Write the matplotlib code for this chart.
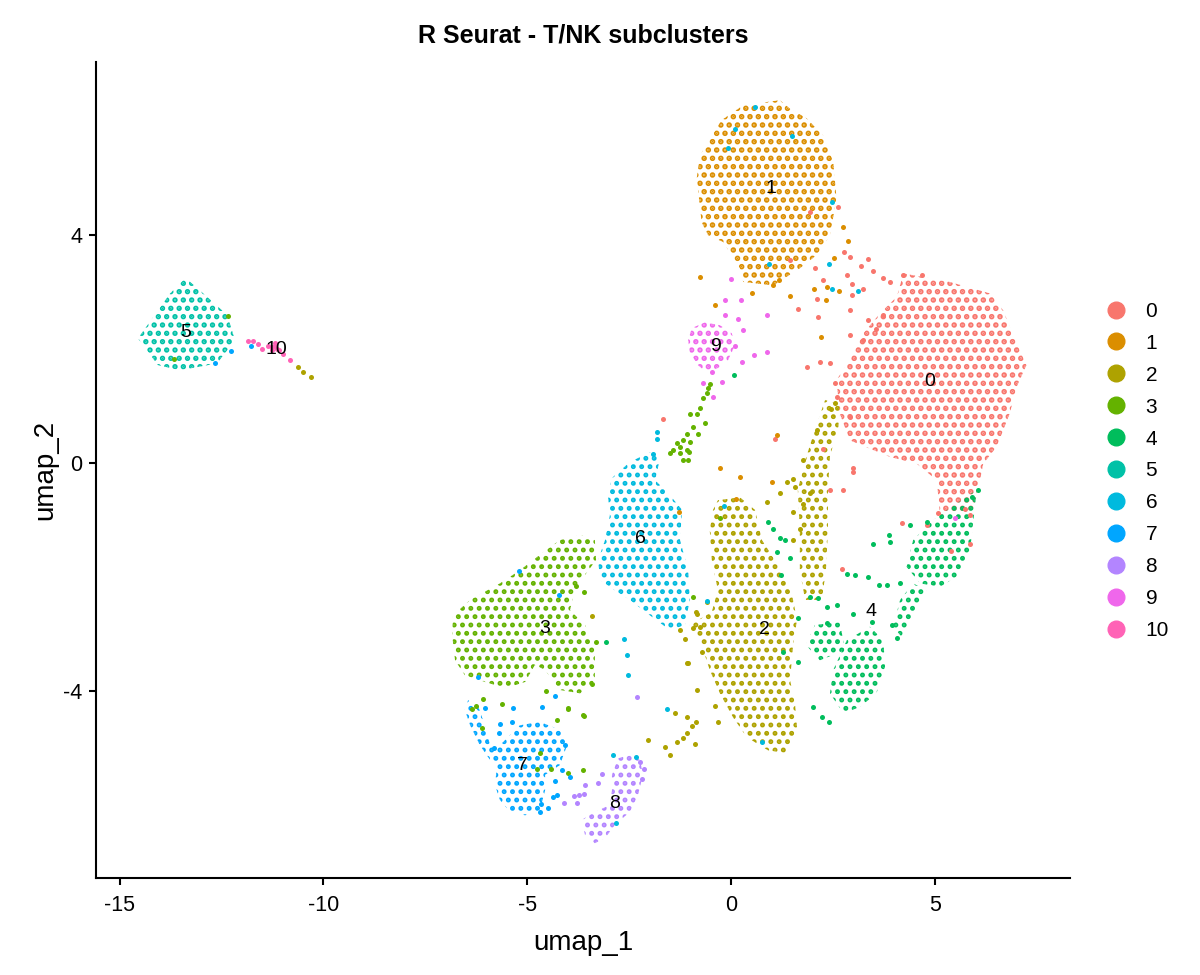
import matplotlib
matplotlib.use('Agg')
import matplotlib.pyplot as plt
from matplotlib.patches import Polygon
from matplotlib.lines import Line2D

plt.rcParams['font.family'] = ['Liberation Sans', 'DejaVu Sans']
plt.rcParams['axes.unicode_minus'] = False

clusters = ['0', '1', '2', '3', '4', '5', '6', '7', '8', '9', '10']
colors = ['#F8766D', '#DB8E00', '#AEA200', '#64B200', '#00BD5C', '#00C1A7',
          '#00BADE', '#00A6FF', '#B385FF', '#EF67EB', '#FF63B6']

# cluster outlines in umap coordinates
outline_0 = [[(4.07, 2.92), (4.23, 3.33), (5.37, 3.18), (6.35, 2.98), (6.68, 2.68), (7.01, 2.10),
              (7.25, 1.72), (7.01, 1.34), (6.84, 0.87), (6.52, 0.29), (6.19, -0.01), (6.11, -0.30),
              (5.94, -0.82), (5.13, -0.91), (5.05, -0.30), (4.56, -0.01), (3.90, 0.11), (2.92, 0.40),
              (2.67, 0.87), (2.59, 1.46), (2.92, 1.81), (3.25, 2.28), (3.66, 2.63)]]
outline_1 = [[(1.20, 6.37), (1.45, 6.22), (1.86, 6.05), (2.26, 5.75), (2.51, 5.29), (2.59, 4.64),
              (2.43, 4.00), (2.10, 3.65), (1.69, 3.42), (1.04, 3.12), (0.30, 3.18), (0.22, 3.42),
              (-0.19, 3.88), (-0.56, 4.00), (-0.72, 4.23), (-0.84, 5.00), (-0.76, 5.40), (-0.23, 6.02),
              (0.30, 6.28)]]
outline_2 = [[(-0.32, -0.65), (0.22, -0.60), (0.59, -0.82), (0.76, -1.35), (1.20, -1.84), (1.50, -2.32),
              (1.62, -2.75), (1.52, -3.23), (1.45, -3.81), (1.57, -4.21), (1.62, -4.63), (1.37, -5.09),
              (0.91, -5.04), (0.39, -4.81), (0.05, -4.46), (-0.27, -4.04), (-0.52, -3.63), (-0.76, -3.11),
              (-1.01, -2.84), (-0.47, -2.61), (-0.32, -2.23), (-0.47, -1.70), (-0.52, -1.18), (-0.44, -0.82)],
             [(2.31, 1.11), (2.67, 1.02), (2.63, 0.58), (2.43, 0.14), (2.38, -0.47), (2.38, -1.18),
              (2.33, -1.88), (2.23, -2.40), (1.82, -2.40), (1.69, -1.88), (1.69, -1.18), (1.64, -0.47),
              (1.82, 0.05), (2.06, 0.58)]]
outline_3 = [[(-6.82, -2.67), (-6.40, -2.40), (-5.67, -2.11), (-5.18, -1.88), (-4.69, -1.61), (-4.20, -1.35),
              (-3.70, -1.26), (-3.34, -1.35), (-3.31, -1.70), (-3.58, -1.96), (-3.83, -2.23), (-3.95, -2.58),
              (-3.58, -2.84), (-3.34, -3.28), (-3.34, -3.81), (-3.70, -4.04), (-4.20, -3.98), (-4.56, -3.63),
              (-4.81, -3.54), (-5.05, -3.84), (-5.54, -3.95), (-6.16, -3.81), (-6.53, -3.72), (-6.77, -3.46),
              (-6.84, -3.02)]]
outline_4 = [[(4.47, -1.35), (4.96, -1.00), (5.37, -0.79), (6.03, -0.47), (5.94, -1.06), (5.86, -1.58),
              (5.54, -1.99), (5.13, -2.17), (4.64, -2.11), (4.31, -1.82)],
             [(2.51, -3.63), (2.84, -3.11), (3.41, -2.87), (3.74, -3.11), (3.78, -3.57), (3.57, -4.04),
              (3.16, -4.28), (2.76, -4.39), (2.43, -4.04)],
             [(3.98, -2.87), (4.15, -2.40), (4.47, -2.11), (4.80, -2.23), (4.47, -2.64), (4.19, -3.05)],
             [(2.06, -2.84), (2.67, -2.79), (2.80, -3.28), (2.18, -3.46), (1.84, -3.19)]]
outline_5 = [[(-13.38, 3.25), (-12.95, 2.98), (-12.36, 2.60), (-12.17, 2.16), (-12.61, 1.75), (-13.52, 1.63),
              (-14.06, 1.72), (-14.55, 2.19), (-14.18, 2.56), (-13.76, 2.98)]]
outline_6 = [[(-2.92, -0.26), (-2.48, 0.02), (-1.99, 0.19), (-1.74, 0.09), (-1.86, -0.30), (-1.50, -0.56),
              (-1.20, -0.82), (-1.25, -1.35), (-1.05, -1.88), (-1.01, -2.40), (-1.13, -2.84), (-1.50, -2.93),
              (-1.99, -2.67), (-2.48, -2.40), (-2.85, -2.23), (-3.21, -2.05), (-3.26, -1.70), (-3.09, -1.35),
              (-2.97, -0.91), (-3.02, -0.56)]]
outline_7 = [[(-6.45, -4.16), (-6.21, -4.25), (-6.04, -4.60), (-5.91, -4.95), (-5.67, -4.95), (-5.18, -4.60),
              (-4.69, -4.54), (-4.20, -4.68), (-4.02, -4.95), (-4.20, -5.30), (-4.56, -5.47), (-4.56, -5.74),
              (-4.69, -6.09), (-5.05, -6.18), (-5.42, -6.12), (-5.67, -5.91), (-5.79, -5.65), (-5.74, -5.30),
              (-5.91, -5.21), (-6.16, -4.95), (-6.40, -4.60), (-6.53, -4.33)]]
outline_8 = [[(-2.77, -5.18), (-2.48, -5.12), (-2.23, -5.21), (-2.16, -5.47), (-2.28, -5.82), (-2.48, -6.12),
              (-2.85, -6.35), (-3.09, -6.58), (-3.34, -6.67), (-3.58, -6.53), (-3.66, -6.26), (-3.34, -6.12),
              (-2.97, -6.00), (-2.92, -5.74), (-2.92, -5.47)]]
outline_9 = [[(-0.96, 2.37), (-0.64, 2.47), (-0.27, 2.42), (0.02, 2.28), (0.10, 2.07), (-0.07, 1.81),
              (-0.32, 1.67), (-0.61, 1.60), (-0.81, 1.72), (-1.01, 1.95), (-1.05, 2.16)]]
outline_10 = []

# single cells lying outside the outlines
cells_0 = [(2.63, 4.50), (2.77, 3.71), (2.92, 3.61), (3.37, 3.58), (3.18, 3.46), (2.84, 3.31), (3.48, 3.37),
           (3.74, 3.25), (3.90, 3.18), (2.96, 3.15), (2.96, 2.95), (3.25, 3.06), (2.26, 3.21), (2.06, 3.42),
           (1.45, 3.57), (1.94, 4.40), (2.10, 2.88), (1.64, 2.70), (2.13, 2.57), (2.92, 2.68), (2.92, 2.25),
           (3.25, 2.16), (3.57, 2.36), (3.74, 2.60), (4.23, 3.30), (4.68, 3.30), (3.37, 2.51), (1.86, 1.69),
           (2.18, 1.78), (2.43, 1.75), (2.55, 1.40), (1.08, 0.43), (-1.66, 0.78), (3.00, -0.09), (2.43, -0.47),
           (2.59, 1.16), (2.92, 0.81), (4.19, -1.05), (4.80, -1.09), (5.09, -0.88), (5.74, -0.80), (5.86, -0.91),
           (2.72, -1.86), (5.86, -1.41), (5.39, -1.54), (2.76, -0.47), (3.00, -0.15), (2.26, 0.24)]
cells_1 = [(-0.76, 3.26), (-0.39, 2.78), (0.51, 2.98), (1.04, 3.12), (1.19, 3.21), (1.46, 2.94), (2.04, 3.06),
           (2.35, 3.09), (2.33, 2.86), (2.66, 3.02), (2.53, 3.60), (2.76, 4.15), (2.88, 3.90), (2.21, 2.22),
           (1.12, 0.49), (-0.27, -0.09), (0.22, -0.24), (1.00, -0.33), (-1.27, -0.85), (0.12, -0.63)]
cells_2 = [(-10.62, 1.69), (-10.49, 1.60), (-10.31, 1.51), (-0.84, -3.98), (-0.39, -4.26), (-0.31, -4.54),
           (-1.09, -4.45), (-1.37, -4.39), (-0.86, -4.54), (-0.96, -4.61), (-1.09, -4.74), (-1.17, -4.83),
           (-1.33, -4.89), (-1.62, -4.98), (-1.50, -5.12), (-2.04, -4.85), (-0.88, -4.93), (-0.86, -2.61),
           (-0.60, -2.43), (-1.09, -3.51), (-1.25, -2.93), (-1.13, -3.08), (-0.76, -2.87), (2.10, 0.58),
           (1.77, 0.05), (1.53, -0.27), (1.37, -0.33), (1.94, -0.53), (1.20, -0.53), (1.57, -0.42),
           (0.88, -0.68), (1.53, -0.85), (1.77, -0.71), (1.69, -1.15), (1.53, -1.35), (-3.42, -2.68),
           (-0.92, -2.90), (-0.84, -2.64), (-0.72, -3.31), (-1.05, -3.50), (2.55, 1.05), (2.45, 0.95)]
cells_3 = [(-0.60, 1.23), (-0.68, 1.14), (-0.76, 0.96), (-0.84, 0.87), (-1.01, 0.87), (-0.64, 0.71),
           (-0.92, 0.64), (-1.09, 0.52), (-0.80, 0.52), (-1.17, 0.40), (-1.33, 0.35), (-1.01, 0.37),
           (-1.42, 0.23), (-1.50, 0.17), (-1.17, 0.05), (-1.02, 0.20), (-1.25, 0.29), (-1.09, 0.23),
           (-1.25, 0.17), (-1.05, 0.05), (-0.56, 1.32), (-0.52, 1.39), (-12.33, 2.58), (-13.67, 1.82),
           (-6.09, -4.14), (-5.61, -4.22), (-6.26, -4.26), (-4.54, -3.99), (-4.01, -4.32), (-3.60, -4.43),
           (-4.77, -5.36), (-4.42, -5.37), (-3.99, -5.44), (-3.62, -5.39), (-4.69, -5.09), (-6.12, -4.65),
           (-6.36, -4.32), (-3.79, -2.15), (-3.61, -2.26), (-3.30, -3.13), (-3.42, -3.87), (-3.62, -4.42),
           (-3.99, -4.30), (-4.28, -4.51), (-0.27, -0.97), (-0.92, -2.35)]
cells_4 = [(0.92, -1.03), (1.04, -1.15), (1.20, -1.32), (1.32, -1.35), (1.12, -1.56), (1.45, -1.67),
           (1.24, -1.96), (1.94, -2.35), (2.35, -2.52), (2.59, -2.49), (2.84, -1.94), (3.04, -1.96),
           (3.37, -1.99), (3.49, -1.41), (3.88, -1.26), (3.90, -1.38), (4.39, -1.09), (4.80, -1.03),
           (3.63, -2.13), (3.82, -2.13), (4.15, -2.11), (3.00, -2.64), (3.45, -2.78), (2.02, -4.28),
           (2.23, -4.45), (2.40, -4.54), (1.64, -3.49), (1.65, -2.72), (2.14, -2.36), (2.35, -2.80),
           (1.28, -3.31), (4.07, -3.06), (3.94, -2.84), (6.07, -0.47), (5.92, -0.59), (-3.07, -3.13),
           (0.08, 1.54)]
cells_5 = []
cells_6 = [(-2.63, -3.08), (-2.54, -3.37), (-2.52, -3.71), (-1.58, -4.32), (-0.58, -2.42), (-0.17, -0.75),
           (-1.82, 0.55), (-1.81, 0.43), (-1.91, 0.16), (0.59, 6.25), (0.10, 5.87), (-0.07, 5.53),
           (1.49, 5.74), (2.47, 4.58), (0.93, 3.49), (2.41, 3.49), (2.49, 3.06), (3.12, 3.02),
           (0.75, -4.89), (-2.89, -5.12), (-2.34, -5.15), (-2.83, -6.32)]
cells_7 = [(-12.27, 1.97), (-11.78, 2.06), (-12.66, 1.75), (-5.20, -1.89), (-4.22, -2.32), (-6.20, -3.76),
           (-4.32, -4.09), (-4.64, -4.28), (-5.36, -4.29), (-6.04, -4.29), (-5.67, -4.57), (-5.38, -4.54),
           (-5.68, -4.74), (-5.81, -5.00), (-3.95, -5.51), (-4.28, -5.82), (-4.48, -6.06), (-4.69, -6.13),
           (-4.07, -4.95), (-4.15, -5.39), (-4.36, -5.85), (-4.32, -5.57), (-4.66, -5.98)]
cells_8 = [(-2.31, -4.10), (-2.23, -5.24), (-2.13, -5.36), (-2.19, -5.54), (-3.16, -5.46), (-3.26, -5.62),
           (-3.58, -5.64), (-3.61, -5.80), (-3.72, -5.82), (-3.84, -5.84), (-3.77, -5.96), (-4.09, -5.96)]
cells_9 = [(-0.01, 3.23), (0.25, 2.87), (0.88, 2.60), (0.89, 1.95), (0.56, 1.89), (0.30, 2.33), (0.10, 2.06),
           (-0.15, 2.60), (0.18, 2.53), (0.26, 1.78), (-0.23, 1.43), (-0.43, 1.16), (-0.68, 1.40),
           (-0.47, 1.60), (-0.15, 2.86), (5.50, -0.97)]
cells_10 = [(-11.86, 2.15), (-11.72, 2.15), (-11.60, 2.09), (-11.51, 2.01), (-11.27, 2.03), (-11.15, 2.01),
            (-10.98, 1.92), (-10.82, 1.81), (-11.35, 2.05), (-11.20, 2.06), (-11.10, 1.98), (-11.25, 1.98),
            (-11.18, 2.10)]

label_x = [4.88, 0.98, 0.82, -4.56, 3.43, -13.38, -2.21, -5.12, -2.85, -0.39, -11.15]
label_y = [1.43, 4.82, -2.92, -2.90, -2.61, 2.30, -1.33, -5.31, -5.97, 2.04, 1.99]

outlines = [outline_0, outline_1, outline_2, outline_3, outline_4, outline_5,
            outline_6, outline_7, outline_8, outline_9, outline_10]
cells = [cells_0, cells_1, cells_2, cells_3, cells_4, cells_5,
         cells_6, cells_7, cells_8, cells_9, cells_10]
# dot size of each cluster's fill pattern
dot_lw = [2.7, 2.7, 2.3, 2.3, 2.3, 2.6, 2.3, 2.3, 2.3, 2.6, 2.6]

fig = plt.figure(figsize=(12, 9.75), dpi=100)
ax = fig.add_axes([0.08, 0.0995, 0.8117, 0.8369])

for i in range(len(clusters)):
    for poly in outlines[i]:
        plt.rcParams['hatch.linewidth'] = dot_lw[i]
        patch = Polygon(poly, closed=True, fill=False, hatch='..',
                        edgecolor=colors[i], linewidth=0, zorder=1)
        if hasattr(patch, 'set_hatch_linewidth'):
            patch.set_hatch_linewidth(dot_lw[i])
        ax.add_patch(patch)
for i in range(len(clusters)):
    if cells[i]:
        xs = [p[0] for p in cells[i]]
        ys = [p[1] for p in cells[i]]
        ax.scatter(xs, ys, s=13, color=colors[i], linewidths=0, zorder=2)

for i in range(len(clusters)):
    ax.text(label_x[i], label_y[i], clusters[i], fontsize=14, ha='center', va='center', zorder=3)

ax.set_xlim(-15.58, 8.32)
ax.set_ylim(-7.28, 7.04)
ax.set_xticks([-15, -10, -5, 0, 5])
ax.set_yticks([-4, 0, 4])
for side in ['top', 'right']:
    ax.spines[side].set_visible(False)
for side in ['left', 'bottom']:
    ax.spines[side].set_linewidth(1.5)
ax.tick_params(length=5, width=1.5, labelsize=15.5)
ax.tick_params(axis='x', pad=7)
ax.tick_params(axis='y', pad=5)
ax.set_xlabel('umap_1', fontsize=20, labelpad=10)
ax.set_ylabel('umap_2', fontsize=20, labelpad=3)
ax.set_title('R Seurat - T/NK subclusters', fontsize=18, fontweight='bold', pad=14)

handles = [Line2D([], [], linestyle='none', marker='o', markersize=12, color=c) for c in colors]
fig.legend(handles, clusters, loc='center left', bbox_to_anchor=(0.906, 0.517), frameon=False,
           fontsize=15, handlelength=1.0, handletextpad=0.9, labelspacing=0.62, borderpad=0.4)

fig.savefig('out.png', dpi=100)
